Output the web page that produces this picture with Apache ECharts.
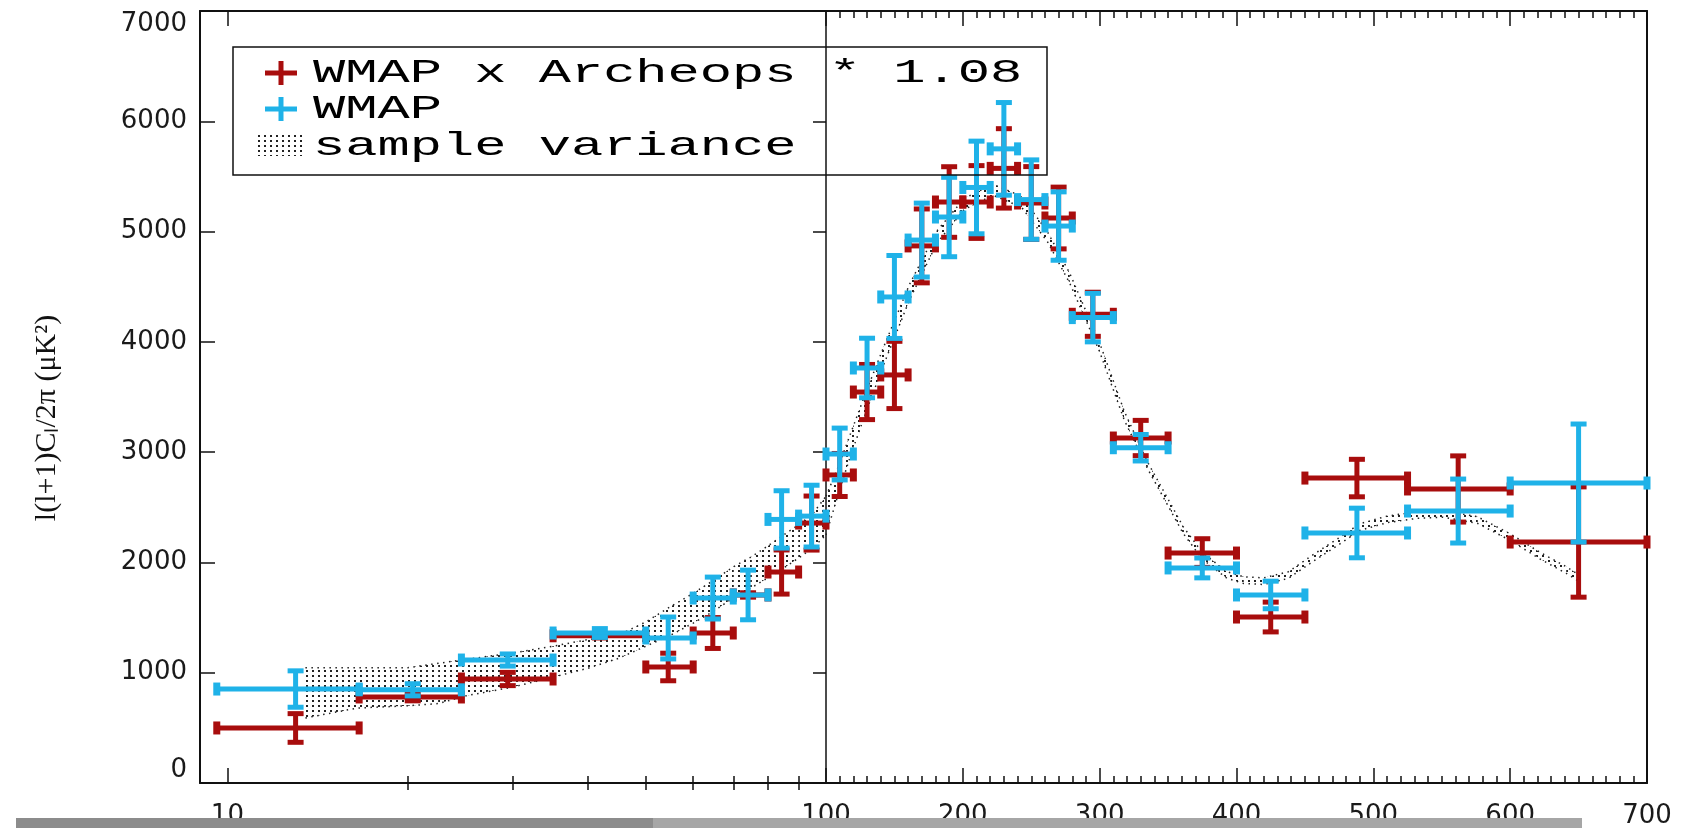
<!DOCTYPE html>
<html>
<head>
<meta charset="utf-8">
<title>WMAP x Archeops</title>
<script src="https://cdn.jsdelivr.net/npm/echarts@6.0.0/dist/echarts.min.js"></script>
<style>
html, body { margin: 0; padding: 0; background: #fff; }
#main { width: 1692px; height: 828px; }
</style>
</head>
<body>
<div id="main"></div>
<script>
// multipole bins (centre, lower edge, upper edge)
var binCenter = [13, 20.4, 29.4, 41.9, 54.5, 64.7, 74.1, 84.3, 94.6, 110, 130, 150, 170, 190, 210, 230, 250, 270, 295, 330, 375, 425, 488, 562, 650];
var binLow    = [9.6, 16.6, 24.6, 35, 50, 60, 70, 80, 90, 100, 120, 140, 160, 180, 200, 220, 240, 260, 280, 310, 350, 400, 450, 525, 600];
var binHigh   = [16.6, 24.6, 35, 50, 60, 70, 80, 90, 100, 120, 140, 160, 180, 200, 220, 240, 260, 280, 310, 350, 400, 450, 525, 600, 700];

// WMAP x Archeops * 1.08
var archVal = [499, 780, 943, 1335, 1052, 1360, 1705, 1913, 2357, 2793, 3545, 3700, 4870, 5268, 5268, 5573, 5259, 5123, 4250, 3128, 2085, 1505, 2765, 2666, 2185];
var archErr = [130, 35, 60, 20, 125, 140, 20, 200, 245, 195, 250, 305, 335, 320, 330, 360, 330, 280, 200, 160, 130, 135, 170, 300, 500];

// WMAP
var wmapVal = [852, 845, 1115, 1360, 1315, 1677, 1705, 2390, 2420, 2983, 3763, 4407, 4923, 5132, 5400, 5750, 5290, 5050, 4220, 3040, 1950, 1705, 2267, 2466, 2720];
var wmapErr = [165, 55, 55, 40, 190, 190, 225, 260, 280, 235, 270, 376, 335, 360, 420, 420, 360, 310, 220, 120, 90, 125, 225, 290, 535];

// sample variance band
var svEll  = [13.5, 16.5, 20, 22.5, 25, 30, 35, 40, 45, 50, 55, 60, 65, 70, 75, 80, 85, 90, 95, 100, 110, 118, 130, 143, 161, 181, 201, 222, 243, 262, 278, 300, 318, 335, 349, 361, 375, 393, 405, 420, 438, 456, 474, 490, 510, 532, 551, 576, 600, 622, 641, 650];
var svLow  = [590, 680, 700, 720, 790, 870, 960, 1040, 1130, 1240, 1340, 1450, 1560, 1680, 1770, 1860, 1950, 2040, 2130, 2250, 2660, 2970, 3390, 3820, 4380, 4895, 5200, 5330, 5220, 4905, 4535, 3910, 3290, 2850, 2536, 2264, 2030, 1856, 1810, 1800, 1856, 2010, 2155, 2290, 2360, 2400, 2410, 2355, 2200, 2030, 1901, 1830];
var svHigh = [1045, 1045, 1045, 1085, 1120, 1180, 1240, 1300, 1340, 1460, 1600, 1720, 1840, 1960, 2050, 2150, 2250, 2340, 2440, 2600, 2900, 3170, 3570, 3980, 4520, 5005, 5300, 5430, 5320, 4995, 4625, 3990, 3370, 2910, 2596, 2324, 2090, 1916, 1870, 1860, 1916, 2070, 2215, 2350, 2420, 2460, 2470, 2415, 2260, 2090, 1961, 1890];

var leftMajor = [10, 100];
var leftMinor = [20, 30, 40, 50, 60, 70, 80, 90];
var leftLabels = [10];

var RED = '#a80d0d';
var BLUE = '#1fb2e8';
var TICKFONT = 'DejaVu Sans';

var dom = document.getElementById('main');
var myChart = echarts.init(dom);

function dotPattern() {
    var cv = document.createElement('canvas');
    cv.width = 6;
    cv.height = 5;
    var ctx = cv.getContext('2d');
    ctx.fillStyle = '#222';
    ctx.fillRect(0, 0, 2, 2);
    return cv;
}
var dots = dotPattern();

function onSide(l, left) {
    return left ? l <= 100 : l >= 100;
}

function crossData(vals, errs, left) {
    var out = [];
    for (var i = 0; i < binCenter.length; i++) {
        if ((binCenter[i] <= 100) === left) {
            out.push([binCenter[i], binLow[i], binHigh[i], vals[i], errs[i]]);
        }
    }
    return out;
}

function edgeData(arr, left) {
    var out = [];
    for (var i = 0; i < svEll.length; i++) {
        if (onSide(svEll[i], left)) out.push([svEll[i], arr[i]]);
    }
    return out;
}

// one quad per pair of neighbouring band points
function bandData(left) {
    var out = [];
    for (var i = 0; i < svEll.length - 1; i++) {
        if (onSide(svEll[i], left) && onSide(svEll[i + 1], left)) {
            out.push([svEll[i], svLow[i], svHigh[i], svEll[i + 1], svLow[i + 1], svHigh[i + 1]]);
        }
    }
    return out;
}

function bandItem(params, api) {
    var pts = [
        api.coord([api.value(0), api.value(1)]),
        api.coord([api.value(3), api.value(4)]),
        api.coord([api.value(3), api.value(5)]),
        api.coord([api.value(0), api.value(2)])
    ];
    return { type: 'polygon', shape: { points: pts }, style: { fill: { image: dots, repeat: 'repeat' } } };
}

function crossItem(color) {
    return function (params, api) {
        var y = api.value(3), e = api.value(4);
        var c = api.coord([api.value(0), y]);
        var a = api.coord([api.value(1), y]);
        var b = api.coord([api.value(2), y]);
        var t = api.coord([api.value(0), y + e]);
        var d = api.coord([api.value(0), y - e]);
        var w = 5, st = { fill: color };
        return {
            type: 'group',
            children: [
                { type: 'rect', shape: { x: a[0], y: c[1] - w / 2, width: b[0] - a[0], height: w }, style: st },
                { type: 'rect', shape: { x: c[0] - w / 2, y: t[1], width: w, height: d[1] - t[1] }, style: st },
                { type: 'rect', shape: { x: a[0] - 3.5, y: c[1] - 6.5, width: 7, height: 13 }, style: st },
                { type: 'rect', shape: { x: b[0] - 3.5, y: c[1] - 6.5, width: 7, height: 13 }, style: st },
                { type: 'rect', shape: { x: c[0] - 8, y: t[1] - 2.5, width: 16, height: 5 }, style: st },
                { type: 'rect', shape: { x: c[0] - 8, y: d[1] - 2.5, width: 16, height: 5 }, style: st }
            ]
        };
    };
}

var axisLine = { show: true, onZero: false, lineStyle: { color: '#111', width: 2 } };
var tickLabel = { fontFamily: TICKFONT, fontSize: 26, color: '#1a1a1a' };

function logAxis(pos, ticks, len, labels, showLine) {
    return {
        type: 'log', logBase: 10, gridIndex: 0, position: pos, min: 9, max: 100,
        axisLine: showLine ? axisLine : { show: false },
        axisTick: { show: true, inside: true, length: len, customValues: ticks, lineStyle: { color: '#111', width: 1.5 } },
        axisLabel: labels ? Object.assign({ customValues: labels, margin: 20 }, tickLabel) : { show: false },
        splitLine: { show: false },
        minorTick: { show: false }
    };
}

function linAxis(pos, labels) {
    return {
        type: 'value', gridIndex: 1, position: pos, min: 100, max: 700, interval: 100,
        axisLine: axisLine,
        axisTick: { show: true, inside: true, length: 15, lineStyle: { color: '#111', width: 1.5 } },
        minorTick: { show: true, splitNumber: 10, length: 7, lineStyle: { color: '#111', width: 1.5 } },
        axisLabel: labels ? Object.assign({ margin: 20 }, tickLabel) : { show: false },
        splitLine: { show: false }
    };
}

function bandSeries(left) {
    return {
        type: 'custom',
        name: 'sample variance',
        xAxisIndex: left ? 0 : 4,
        yAxisIndex: left ? 0 : 2,
        renderItem: bandItem,
        data: bandData(left),
        encode: { x: [0, 3], y: [1, 2, 4, 5] },
        silent: true,
        z: 1
    };
}

function edgeSeries(arr, left) {
    return {
        type: 'line',
        xAxisIndex: left ? 0 : 4,
        yAxisIndex: left ? 0 : 2,
        data: edgeData(arr, left),
        showSymbol: false,
        silent: true,
        z: 1,
        lineStyle: { color: '#222', width: 1.5, type: [1.5, 4.5] }
    };
}

function crossSeries(name, color, vals, errs, left, z) {
    return {
        type: 'custom',
        name: name,
        xAxisIndex: left ? 0 : 4,
        yAxisIndex: left ? 0 : 2,
        renderItem: crossItem(color),
        data: crossData(vals, errs, left),
        encode: { x: [0, 1, 2], y: [3] },
        clip: false,
        silent: true,
        z: z
    };
}

var legendFont = { fontFamily: 'Liberation Mono', fontSize: 34, fill: '#000', verticalAlign: 'middle', align: 'left' };

function legendText(txt, y) {
    return { type: 'text', x: 313, y: y, scaleX: 1.58, style: Object.assign({ text: txt }, legendFont), z: 20 };
}

function legendCross(color, y) {
    return {
        type: 'group', x: 281, y: y, z: 20,
        children: [
            { type: 'rect', shape: { x: -16, y: -2.5, width: 32, height: 5 }, style: { fill: color } },
            { type: 'rect', shape: { x: -2.5, y: -12, width: 5, height: 24 }, style: { fill: color } }
        ]
    };
}

option = {
    animation: false,
    backgroundColor: '#fff',
    grid: [
        { left: 200, top: 11, width: 626, height: 772, outerBoundsMode: 'none' },
        { left: 826, top: 11, width: 821, height: 772, outerBoundsMode: 'none' }
    ],
    xAxis: [
        logAxis('bottom', leftMajor, 15, leftLabels, true),
        logAxis('bottom', leftMinor, 7, null, false),
        logAxis('top', leftMajor, 15, null, true),
        logAxis('top', leftMinor, 7, null, false),
        linAxis('bottom', true),
        linAxis('top', false)
    ],
    yAxis: [
        {
            type: 'value', gridIndex: 0, position: 'left', min: 0, max: 7000, interval: 1000,
            axisLine: axisLine,
            axisTick: { show: true, inside: true, length: 15, lineStyle: { color: '#111', width: 1.5 } },
            axisLabel: Object.assign({
                margin: 13,
                verticalAlignMaxLabel: 'top',
                verticalAlignMinLabel: 'bottom',
                formatter: function (v) { return String(v); }
            }, tickLabel),
            splitLine: { show: false },
            name: 'l(l+1)C\u2097/2\u03c0 (\u03bcK\u00b2)',
            nameLocation: 'middle',
            nameRotate: 90,
            nameGap: 138,
            nameTextStyle: { fontFamily: 'Liberation Serif', fontSize: 30, color: '#111', padding: [0, 42, 0, 0] }
        },
        {
            type: 'value', gridIndex: 0, position: 'right', min: 0, max: 7000, interval: 1000,
            axisLine: { show: true, onZero: false, lineStyle: { color: '#111', width: 1.5 } },
            axisTick: { show: true, inside: true, length: 13, lineStyle: { color: '#111', width: 1.5 } },
            axisLabel: { show: false },
            splitLine: { show: false }
        },
        {
            type: 'value', gridIndex: 1, position: 'left', min: 0, max: 7000, interval: 1000,
            axisLine: { show: false }, axisTick: { show: false }, axisLabel: { show: false },
            splitLine: { show: false }
        },
        {
            type: 'value', gridIndex: 1, position: 'right', min: 0, max: 7000, interval: 1000,
            axisLine: axisLine, axisTick: { show: false }, axisLabel: { show: false },
            splitLine: { show: false }
        }
    ],
    series: [
        bandSeries(true),
        bandSeries(false),
        edgeSeries(svLow, true),
        edgeSeries(svHigh, true),
        edgeSeries(svLow, false),
        edgeSeries(svHigh, false),
        crossSeries('WMAP x Archeops * 1.08', RED, archVal, archErr, true, 3),
        crossSeries('WMAP x Archeops * 1.08', RED, archVal, archErr, false, 3),
        crossSeries('WMAP', BLUE, wmapVal, wmapErr, true, 4),
        crossSeries('WMAP', BLUE, wmapVal, wmapErr, false, 4)
    ],
    graphic: [
        { type: 'rect', shape: { x: 233, y: 47, width: 814, height: 128 }, style: { fill: 'none', stroke: '#111', lineWidth: 1.5 }, z: 20 },
        legendCross(RED, 73),
        legendCross(BLUE, 109),
        { type: 'rect', shape: { x: 255, y: 134, width: 47, height: 22 }, style: { fill: { image: dots, repeat: 'repeat' } }, z: 20 },
        legendText('WMAP x Archeops * 1.08', 73),
        legendText('WMAP', 109),
        legendText('sample variance', 146),
        { type: 'rect', shape: { x: 16, y: 818, width: 637, height: 10 }, style: { fill: '#8c8c8c' }, z: 30 },
        { type: 'rect', shape: { x: 653, y: 818, width: 929, height: 10 }, style: { fill: '#a6a6a6' }, z: 30 }
    ]
};

if (option && typeof option === "object") {
    myChart.setOption(option, true);
}
</script>
</body>
</html>
